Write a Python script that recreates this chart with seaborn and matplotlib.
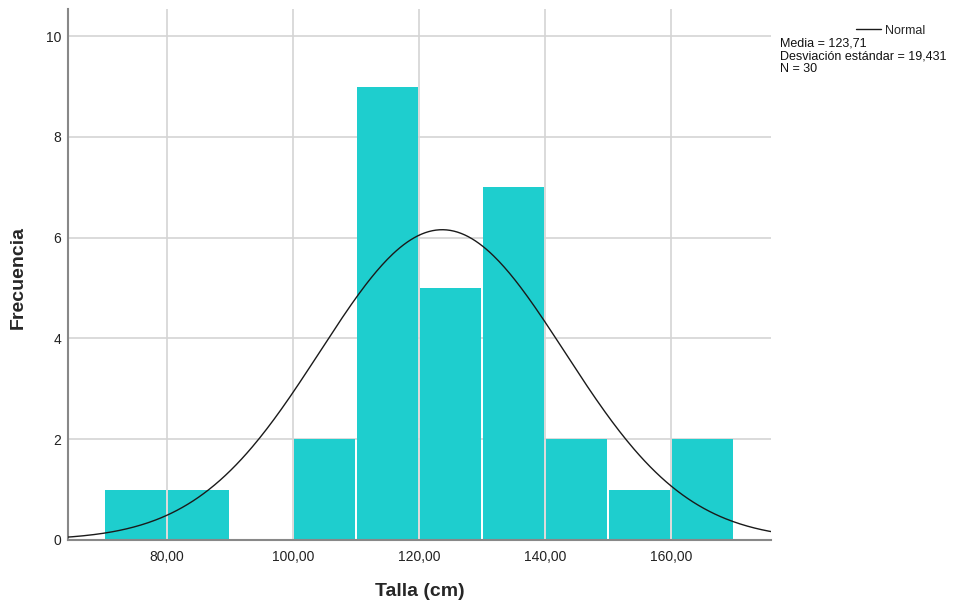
import numpy as np
import pandas as pd
import matplotlib
matplotlib.use("Agg")
import matplotlib.pyplot as plt
import seaborn as sns

# Frequency table of heights (bin lower edges, width 10 cm)
bin_starts = [70, 80, 90, 100, 110, 120, 130, 140, 150, 160]
counts = [1, 1, 0, 2, 9, 5, 7, 2, 1, 2]
bin_width = 10

# Summary statistics shown in the legend
mean = 123.71
std = 19.431
n = 30

x_ticks = [80, 100, 120, 140, 160]
x_tick_labels = ["80,00", "100,00", "120,00", "140,00", "160,00"]
y_ticks = [0, 2, 4, 6, 8, 10]

sns.set_style("white")
plt.rcParams["font.family"] = ["Liberation Sans", "DejaVu Sans"]

df = pd.DataFrame({
    "talla": [s + bin_width / 2 for s in bin_starts],
    "freq": counts,
})
edges = bin_starts + [bin_starts[-1] + bin_width]

fig = plt.figure(figsize=(9.59, 6.03), dpi=100)
ax = fig.add_axes([0.0709, 0.1045, 0.733, 0.8805])

sns.histplot(data=df, x="talla", weights="freq", bins=edges, ax=ax,
             color="#1ecece", alpha=1.0, linewidth=0, shrink=0.96,
             zorder=2)

# Fitted normal curve scaled to frequencies
xs = np.linspace(63, 177, 400)
pdf = np.exp(-0.5 * ((xs - mean) / std) ** 2) / (std * np.sqrt(2 * np.pi))
sns.lineplot(x=xs, y=pdf * n * bin_width, ax=ax, color="#1a1a1a",
             linewidth=1.0, zorder=3, label="Normal")

ax.set_xlim(64.3, 175.9)
ax.set_ylim(0, 10.54)
ax.set_xticks(x_ticks)
ax.set_xticklabels(x_tick_labels)
ax.set_yticks(y_ticks)
ax.set_yticklabels([str(v) for v in y_ticks])
ax.tick_params(axis="x", length=0, labelsize=10, colors="#222222", pad=7)
ax.tick_params(axis="y", length=0, labelsize=10, colors="#222222", pad=5)

ax.grid(True, color="#d4d4d4", linewidth=1.2, zorder=0)
ax.set_axisbelow(True)
for side in ("top", "right"):
    ax.spines[side].set_visible(False)
for side in ("left", "bottom"):
    ax.spines[side].set_color("#888888")
    ax.spines[side].set_linewidth(1.5)

ax.set_xlabel("Talla (cm)", fontsize=14, fontweight="bold", labelpad=14)
ax.set_ylabel("Frecuencia", fontsize=14, fontweight="bold", va="center")
ax.yaxis.set_label_coords(-0.071, 0.495)

leg = ax.legend(loc="upper left", bbox_to_anchor=(1.114, 0.98), frameon=False,
                fontsize=9, handlelength=2.0, handletextpad=0.3,
                borderaxespad=0)
fig.text(0.813, 0.938,
         f"Media = {mean:.2f}".replace(".", ",") + "\n"
         + f"Desviación estándar = {std:.3f}".replace(".", ",") + "\n"
         + f"N = {n}",
         fontsize=9, va="top", ha="left", linespacing=1.08, color="#111111")

fig.savefig("out.png", dpi=100)
